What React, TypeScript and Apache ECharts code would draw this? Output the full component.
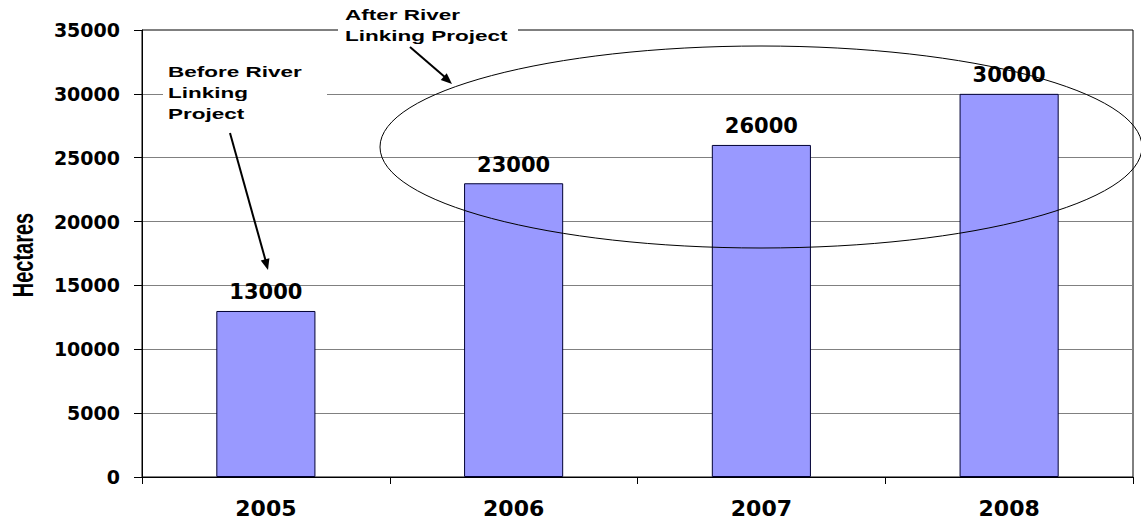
import React, { useEffect, useRef } from "react";
import * as echarts from "echarts";

const categories = ["2005", "2006", "2007", "2008"];
const hectares = [13000, 23000, 26000, 30000];
const yMax = 35000;
const yStep = 5000;
const axisName = "Hectares";
const beforeNote = "Before River\nLinking\nProject";
const afterNote = "After River\nLinking Project";

function arrowHead(tx: number, ty: number, fx: number, fy: number, len: number, half: number) {
  const dx = tx - fx;
  const dy = ty - fy;
  const l = Math.sqrt(dx * dx + dy * dy);
  const ux = dx / l;
  const uy = dy / l;
  const bx = tx - ux * len;
  const by = ty - uy * len;
  const px = -uy * half;
  const py = ux * half;
  return [
    [tx, ty],
    [bx + px, by + py],
    [bx - px, by - py],
  ];
}

export default function App() {
  const ref = useRef<HTMLDivElement>(null);
  useEffect(() => {
    document.body.style.margin = "0";
    const chart = echarts.init(ref.current!, null, { renderer: "svg" });
    const noteFont = "bold 15px 'Liberation Sans', Arial, sans-serif";
    const numFont = "'DejaVu Sans', sans-serif";
    chart.setOption({
      animation: false,
      backgroundColor: "#ffffff",
      grid: {
        left: 142,
        right: 8,
        top: 30,
        bottom: 45,
        show: true,
        borderColor: "#000000",
        borderWidth: 1,
        backgroundColor: "transparent",
      },
      xAxis: {
        type: "category",
        data: categories,
        axisLine: { show: true, lineStyle: { color: "#000000", width: 1 } },
        axisTick: { show: true, length: 7, lineStyle: { color: "#000000" } },
        axisLabel: {
          margin: 20,
          color: "#000000",
          fontFamily: numFont,
          fontWeight: "bold",
          fontSize: 22,
        },
        splitLine: { show: false },
      },
      yAxis: {
        type: "value",
        min: 0,
        max: yMax,
        interval: yStep,
        axisLine: { show: true, lineStyle: { color: "#000000", width: 1 } },
        axisTick: { show: true, length: 8, lineStyle: { color: "#000000" } },
        axisLabel: {
          margin: 22,
          color: "#000000",
          fontFamily: numFont,
          fontWeight: "bold",
          fontSize: 19,
          formatter: (v: number) => String(v),
        },
        splitLine: {
          show: true,
          showMinLine: false,
          showMaxLine: false,
          lineStyle: { color: "#808080", width: 1 },
        },
      },
      series: [
        {
          type: "bar",
          data: hectares,
          barWidth: "40%",
          itemStyle: { color: "#9999ff", borderColor: "#000033", borderWidth: 1 },
          label: {
            show: true,
            position: "top",
            distance: 8,
            color: "#000000",
            fontFamily: numFont,
            fontWeight: "bold",
            fontSize: 21,
          },
        },
      ],
      graphic: [
        {
          type: "text",
          z: 101,
          x: 22,
          y: 255,
          rotation: Math.PI / 2,
          scaleY: 1.5,
          style: {
            text: axisName,
            font: "bold 20px 'Liberation Sans', Arial, sans-serif",
            fill: "#000000",
            align: "center",
            verticalAlign: "middle",
          },
        },
        {
          type: "rect",
          z: 100,
          shape: { x: 163, y: 60, width: 164, height: 66 },
          style: { fill: "#ffffff" },
        },
        {
          type: "rect",
          z: 100,
          shape: { x: 338, y: 2, width: 180, height: 42 },
          style: { fill: "#ffffff" },
        },
        {
          type: "text",
          z: 101,
          x: 168,
          y: 61,
          scaleX: 1.5,
          style: {
            text: beforeNote,
            font: noteFont,
            fill: "#000000",
            lineHeight: 21,
            verticalAlign: "top",
            align: "left",
          },
        },
        {
          type: "text",
          z: 101,
          x: 345,
          y: 4,
          scaleX: 1.5,
          style: {
            text: afterNote,
            font: noteFont,
            fill: "#000000",
            lineHeight: 21,
            verticalAlign: "top",
            align: "left",
          },
        },
        {
          type: "ellipse",
          z: 102,
          shape: { cx: 761, cy: 147, rx: 381, ry: 101 },
          style: { fill: "none", stroke: "#000000", lineWidth: 1 },
        },
        {
          type: "line",
          z: 103,
          shape: { x1: 230, y1: 133, x2: 266, y2: 262 },
          style: { stroke: "#000000", lineWidth: 2 },
        },
        {
          type: "polygon",
          z: 103,
          shape: { points: arrowHead(268, 270, 230, 133, 11, 4.5) },
          style: { fill: "#000000" },
        },
        {
          type: "line",
          z: 103,
          shape: { x1: 410, y1: 47, x2: 446, y2: 78 },
          style: { stroke: "#000000", lineWidth: 2 },
        },
        {
          type: "polygon",
          z: 103,
          shape: { points: arrowHead(452, 84, 410, 47, 11, 4.5) },
          style: { fill: "#000000" },
        },
      ],
    });
    return () => chart.dispose();
  }, []);
  return <div ref={ref} style={{ width: 1141, height: 522 }} />;
}
